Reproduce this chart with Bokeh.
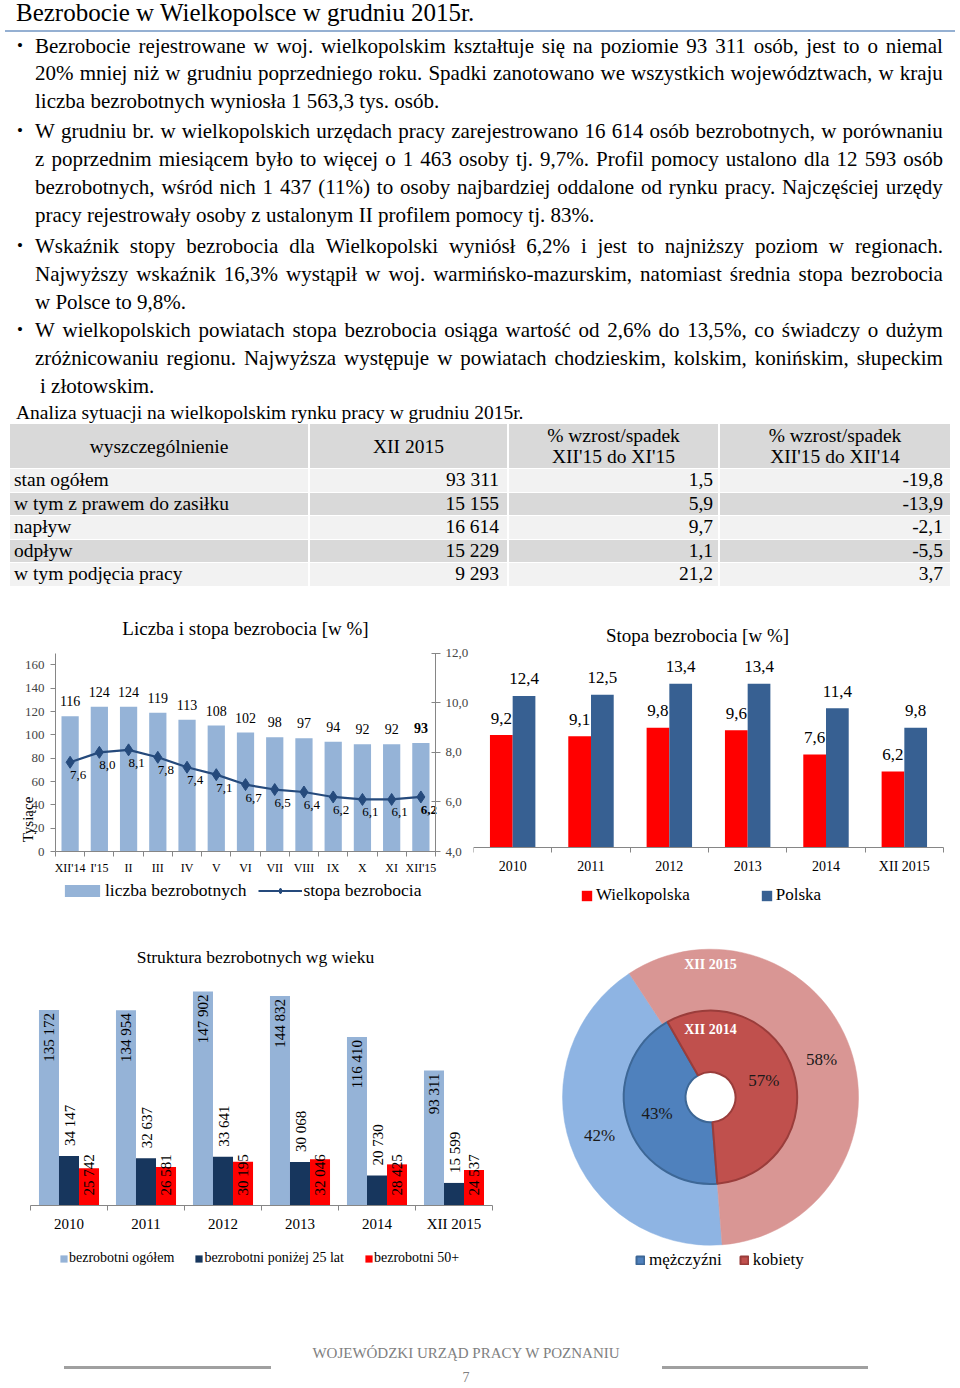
import math
from bokeh.plotting import figure
from bokeh.models import (Range1d, LinearAxis, FixedTicker, Label, Legend, LegendItem,
                          Div, ColumnDataSource)
from bokeh.layouts import column, row
from bokeh.embed import file_html
from bokeh.resources import INLINE
from bokeh.core.properties import value

SERIF = "Liberation Serif"

# ---------------- data ----------------
months = ["XII'14", "I'15", "II", "III", "IV", "V", "VI", "VII", "VIII", "IX", "X", "XI", "XII'15"]
unemployed_k = [116, 124, 124, 119, 113, 108, 102, 98, 97, 94, 92, 92, 93]
rate_pct = [7.6, 8.0, 8.1, 7.8, 7.4, 7.1, 6.7, 6.5, 6.4, 6.2, 6.1, 6.1, 6.2]
left_ticks = [0, 20, 40, 60, 80, 100, 120, 140, 160]
right_ticks = [4, 6, 8, 10, 12]

years = ["2010", "2011", "2012", "2013", "2014", "XII 2015"]
rate_wlkp = [9.2, 9.1, 9.8, 9.6, 7.6, 6.2]
rate_pl = [12.4, 12.5, 13.4, 13.4, 11.4, 9.8]

total = [135172, 134954, 147902, 144832, 116410, 93311]
under25 = [34147, 32637, 33641, 30068, 20730, 15599]
over50 = [25742, 26581, 30195, 32046, 28425, 24537]

gender = ["mężczyźni", "kobiety"]
share_2015 = [42, 58]
share_2014 = [43, 57]

table_head = ["wyszczególnienie", "XII 2015", "% wzrost/spadek<br>XII'15 do XI'15",
              "% wzrost/spadek<br>XII'15 do XII'14"]
table_rows = ["stan ogółem", "w tym z prawem do zasiłku", "napływ", "odpływ", "w tym podjęcia pracy"]
table_xii2015 = ["93 311", "15 155", "16 614", "15 229", "9 293"]
table_mm = ["1,5", "5,9", "9,7", "1,1", "21,2"]
table_yy = ["-19,8", "-13,9", "-2,1", "-5,5", "3,7"]

paragraphs = [
    ["Bezrobocie rejestrowane w woj. wielkopolskim kształtuje się na poziomie 93 311 osób, jest to o niemal",
     "20% mniej niż w grudniu poprzedniego roku. Spadki zanotowano we wszystkich województwach, w kraju",
     "liczba bezrobotnych wyniosła 1 563,3 tys. osób."],
    ["W grudniu br. w wielkopolskich urzędach pracy zarejestrowano 16 614 osób bezrobotnych, w porównaniu",
     "z poprzednim miesiącem było to więcej o 1 463 osoby tj. 9,7%. Profil pomocy ustalono dla 12 593 osób",
     "bezrobotnych, wśród nich 1 437 (11%) to osoby najbardziej oddalone od rynku pracy. Najczęściej urzędy",
     "pracy rejestrowały osoby z ustalonym II profilem pomocy tj. 83%."],
    ["Wskaźnik stopy bezrobocia dla Wielkopolski wyniósł 6,2% i jest to najniższy poziom w regionach.",
     "Najwyższy wskaźnik 16,3% wystąpił w woj. warmińsko-mazurskim, natomiast średnia stopa bezrobocia",
     "w Polsce to 9,8%."],
    ["W wielkopolskich powiatach stopa bezrobocia osiąga wartość od 2,6% do 13,5%, co świadczy o dużym",
     "zróżnicowaniu regionu. Najwyższa występuje w powiatach chodzieskim, kolskim, konińskim, słupeckim",
     "i złotowskim."],
]


def pct(v):
    return f"{v:.1f}".replace(".", ",")


def thou(v):
    return f"{v:,}".replace(",", " ")


AX = "#868686"
C_LB = "#95b3d7"
C_DB = "#254a7c"


def lin_range(p0, v0, p1, v1, a, b):
    """Range whose ends are the data values at page pixels a (start) and b (end),
    given two anchor pixels p0/p1 with data values v0/v1 (layout only)."""
    k = (v1 - v0) / (p1 - p0)
    return Range1d(v0 + (a - p0) * k, v0 + (b - p0) * k)


def make_fig(w, h, xr, yr, **kw):
    p = figure(width=w, height=h, x_range=xr, y_range=yr, min_border=0,
               output_backend="svg", toolbar_location=None, **kw)
    p.outline_line_color = None
    p.xgrid.visible = False
    p.ygrid.visible = False
    p.background_fill_color = "white"
    p.border_fill_color = "white"
    return p


def style_xaxis(ax, n, size, standoff):
    ax.ticker = FixedTicker(ticks=list(range(n)), minor_ticks=[i - 0.5 for i in range(n + 1)])
    ax.fixed_location = 0
    ax.bounds = (-0.5, n - 0.5)
    ax.major_tick_out = 0
    ax.major_tick_in = 0
    ax.major_tick_line_color = None
    ax.minor_tick_out = 5
    ax.minor_tick_in = 0
    ax.minor_tick_line_color = AX
    ax.axis_line_color = AX
    ax.major_label_text_font = SERIF
    ax.major_label_text_font_size = size
    ax.major_label_text_color = "black"
    ax.major_label_standoff = standoff


def title(p, x, y, text, size, angle=0.0):
    p.add_layout(Label(x=x, y=y, x_units="screen", y_units="screen", text=text, angle=angle,
                       text_font=SERIF, text_font_size=size, text_color="black",
                       text_align="center", text_baseline="middle"))


def legend(items, loc, gw, gh, standoff, spacing, size, lh):
    return Legend(items=items, location=loc, orientation="horizontal", glyph_width=gw,
                  glyph_height=gh, label_standoff=standoff, spacing=spacing, padding=0,
                  margin=0, label_height=lh, border_line_color=None,
                  background_fill_alpha=0, label_text_font=SERIF, label_text_font_size=size,
                  label_text_color="black")


# ---------------- chart 1: liczba i stopa (page x 0..473, y 610..917) ----------------
n1 = len(months)
p1 = make_fig(473, 307, lin_range(55, -0.5, 435, n1 - 0.5, 0, 473),
              lin_range(851, 0, 652.7, 170, 917, 610))
p1.extra_y_ranges = {"rate": lin_range(851, right_ticks[0], 652.7, right_ticks[-1], 917, 610)}
src1 = ColumnDataSource(dict(
    x=list(range(n1)), n=unemployed_k, r=rate_pct,
    n_txt=[str(v) for v in unemployed_k], r_txt=[pct(v) for v in rate_pct],
    style=["normal"] * (n1 - 1) + ["bold"]))
bars1 = p1.vbar(x="x", top="n", width=0.59, source=src1, fill_color=C_LB, line_color=None)
line1 = p1.line(x="x", y="r", source=src1, y_range_name="rate", line_color=C_DB, line_width=2.2)
mark1 = p1.scatter(x="x", y="r", source=src1, y_range_name="rate", marker="diamond", size=12,
                   fill_color=C_DB, line_color=C_DB)
p1.text(x="x", y="n", text="n_txt", source=src1, text_font=value(SERIF), text_font_size="14px",
        text_font_style="style", text_align="center", text_baseline="middle", y_offset=-15,
        text_color="black")
p1.text(x="x", y="r", text="r_txt", source=src1, y_range_name="rate", text_font=value(SERIF),
        text_font_size="13px", text_font_style="style", text_align="center",
        text_baseline="middle", x_offset=8, y_offset=13, text_color="black")
style_xaxis(p1.xaxis[0], n1, "12px", 4)
p1.xaxis[0].major_label_overrides = {i: m for i, m in enumerate(months)}
ly = p1.yaxis[0]
ly.ticker = FixedTicker(ticks=left_ticks)
ly.fixed_location = -0.5
ly.bounds = (0, 170)
ly.major_tick_out = 5
ly.major_tick_in = 0
ly.minor_tick_line_color = None
ly.axis_line_color = AX
ly.major_tick_line_color = AX
ly.major_label_text_font = SERIF
ly.major_label_text_font_size = "13px"
ly.major_label_standoff = 6
ry = LinearAxis(y_range_name="rate", ticker=FixedTicker(ticks=right_ticks),
                major_label_overrides={t: pct(t) for t in right_ticks},
                fixed_location=n1 - 0.5, bounds=(right_ticks[0], right_ticks[-1]))
ry.major_tick_out = 5
ry.major_tick_in = 4
ry.minor_tick_line_color = None
ry.axis_line_color = AX
ry.major_tick_line_color = AX
ry.major_label_text_font = SERIF
ry.major_label_text_font_size = "13px"
ry.major_label_standoff = 5
p1.add_layout(ry, "right")
title(p1, 245, 289, "Liczba i stopa bezrobocia [w %]", "19px")
title(p1, 27, 98, "Tysiące", "15px", angle=math.pi / 2)
p1.add_layout(legend([LegendItem(label="liczba bezrobotnych", renderers=[bars1]),
                      LegendItem(label="stopa bezrobocia", renderers=[line1, mark1])],
                     (60, 16), 44, 15, 1, 12, "17.5px", 22))

# ---------------- chart 2: stopa bezrobocia (page x 473..960, y 610..917) ----------------
n2 = len(years)
p2 = make_fig(487, 307, lin_range(473, -0.5, 943, n2 - 0.5, 473, 960),
              lin_range(846.7, 0, 683.3, 13.4, 917, 610), y_axis_type=None)
src2 = ColumnDataSource(dict(
    xr=[i - 0.145 for i in range(n2)], xb=[i + 0.145 for i in range(n2)],
    w=rate_wlkp, pl=rate_pl, wt=[pct(v) for v in rate_wlkp], pt=[pct(v) for v in rate_pl]))
bw = p2.vbar(x="xr", top="w", width=0.29, source=src2, fill_color="#ff0000", line_color=None)
bp = p2.vbar(x="xb", top="pl", width=0.29, source=src2, fill_color="#376092", line_color=None)
for xc, yc, tc in (("xr", "w", "wt"), ("xb", "pl", "pt")):
    p2.text(x=xc, y=yc, text=tc, source=src2, text_font=value(SERIF), text_font_size="17px",
            text_align="center", text_baseline="middle", y_offset=-17, text_color="black")
style_xaxis(p2.xaxis[0], n2, "14px", 7)
p2.xaxis[0].major_label_overrides = {i: y for i, y in enumerate(years)}
title(p2, 224, 282, "Stopa bezrobocia [w %]", "19px")
p2.add_layout(legend([LegendItem(label="Wielkopolska", renderers=[bw]),
                      LegendItem(label="Polska", renderers=[bp])],
                     (107, 11), 13, 13, 3, 70, "17px", 22))

# ---------------- chart 3: struktura wg wieku (page x 0..540, y 917..1285) ----------------
n3 = len(years)
p3 = make_fig(540, 368, lin_range(30, -0.5, 492, n3 - 0.5, 0, 540),
              lin_range(1205, 0, 991, 147902, 1285, 917), y_axis_type=None)
src3 = ColumnDataSource(dict(
    xa=[i - 0.26 for i in range(n3)], xb=[i for i in range(n3)], xc=[i + 0.26 for i in range(n3)],
    t=total, u=under25, o=over50, zero=[0] * n3,
    tt=[thou(v) for v in total], ut=[thou(v) for v in under25], ot=[thou(v) for v in over50]))
b_all = p3.vbar(x="xa", top="t", width=0.26, source=src3, fill_color=C_LB, line_color=None)
b_u25 = p3.vbar(x="xb", top="u", width=0.26, source=src3, fill_color="#17365d", line_color=None)
b_o50 = p3.vbar(x="xc", top="o", width=0.26, source=src3, fill_color="#ff0000", line_color=None)
lab = dict(source=src3, text_font=value(SERIF), text_font_size="15px", angle=math.pi / 2,
           text_baseline="middle", text_color="black")
p3.text(x="xa", y="t", text="tt", text_align="right", y_offset=3, **lab)
p3.text(x="xb", y="u", text="ut", text_align="left", y_offset=-10, x_offset=1, **lab)
p3.text(x="xc", y="zero", text="ot", text_align="left", y_offset=-10, **lab)
style_xaxis(p3.xaxis[0], n3, "15px", 5)
p3.xaxis[0].major_label_overrides = {i: y for i, y in enumerate(years)}
title(p3, 255, 329, "Struktura bezrobotnych wg wieku", "17.5px")
p3.add_layout(legend([LegendItem(label="bezrobotni ogółem", renderers=[b_all]),
                      LegendItem(label="bezrobotni poniżej 25 lat", renderers=[b_u25]),
                      LegendItem(label="bezrobotni 50+", renderers=[b_o50])],
                     (59, 18), 9, 9, 1, 20, "14px", 18))

# ---------------- chart 4: płeć (doughnut) (page x 540..960, y 917..1285) ----------------
p4 = make_fig(420, 368, lin_range(710, 0, 711, 1, 540, 960),
              lin_range(1096.7, 0, 1095.7, 1, 1285, 917), x_axis_type=None, y_axis_type=None)
START = 175.5  # degrees, clockwise from 12 o'clock


def ring(shares, r_in, r_out, fills, lines, lw):
    a = START
    s, e, lx, lyy = [], [], [], []
    rm = (r_in + r_out) / 2
    for v in shares:
        span = v / 100 * 360
        s.append(math.radians(90 - a))
        e.append(math.radians(90 - a - span))
        mid = math.radians(a + span / 2)
        lx.append(rm * math.sin(mid))
        lyy.append(rm * math.cos(mid))
        a += span
    src = ColumnDataSource(dict(s=s, e=e, f=fills, l=lines, lx=lx, ly=lyy,
                                t=[f"{v}%" for v in shares]))
    r = p4.annular_wedge(x=0, y=0, inner_radius=r_in, outer_radius=r_out, start_angle="s",
                         end_angle="e", direction="clock", fill_color="f", line_color="l",
                         line_width=lw, source=src)
    p4.text(x="lx", y="ly", text="t", source=src, text_font=value(SERIF), text_font_size="17px",
            text_align="center", text_baseline="middle", text_color="#1a1a1a")
    return r


ring(share_2015, 86.7, 148, ["#8eb4e3", "#d99694"], ["#8eb4e3", "#d99694"], 0.5)
inner = ring(share_2014, 25, 86.7, ["#4f81bd", "#c0504d"], ["#3d6796", "#9a3d3b"], 2)
p4.text(x=[0, 0], y=[132.7, 67.4], text=["XII 2015", "XII 2014"], text_font=value(SERIF),
        text_font_size="14px", text_font_style="bold", text_color="white",
        text_align="center", text_baseline="middle")
p4.add_layout(legend([LegendItem(label=gender[0], renderers=[inner], index=0),
                      LegendItem(label=gender[1], renderers=[inner], index=1)],
                     (95, 15), 10, 10, 4, 17, "17px", 20))

# ---------------- page text (top) ----------------
# Div content origin is at page (5, 5)
LINE_CY = [46, 73, 101, 131, 159, 187, 215, 246, 274, 302, 330, 358, 386]
FS = 21
LH = 28
parts = ['<div style="position:relative;width:950px;height:600px;font-family:\'Liberation Serif\',serif;color:#000;">']
parts.append('<div style="position:absolute;left:11px;top:-5px;font-size:25px;line-height:26px;'
             'white-space:nowrap;">Bezrobocie w Wielkopolsce w grudniu 2015r.</div>')
parts.append('<div style="position:absolute;left:0px;top:25px;width:950px;height:2px;'
             'background:#95b0d2;"></div>')
k = 0
for para in paragraphs:
    for j, ln in enumerate(para):
        top = LINE_CY[k] - 5 - LH / 2
        if j == 0:
            parts.append(f'<div style="position:absolute;left:12px;top:{top}px;font-size:17px;'
                         f'line-height:{LH}px;">&#8226;</div>')
        last = (j == len(para) - 1)
        if last:
            indent = 5 if k == len(LINE_CY) - 1 else 0
            parts.append(f'<div style="position:absolute;left:{30 + indent}px;top:{top}px;'
                         f'font-size:{FS}px;line-height:{LH}px;white-space:nowrap;">{ln}</div>')
        else:
            spans = "".join(f"<span>{w}</span>" for w in ln.split(" "))
            parts.append(f'<div style="position:absolute;left:30px;top:{top}px;width:908px;'
                         f'font-size:{FS}px;line-height:{LH}px;display:flex;'
                         f'justify-content:space-between;white-space:nowrap;">{spans}</div>')
        k += 1
parts.append('<div style="position:absolute;left:11px;top:397px;font-size:19.5px;line-height:22px;'
             'white-space:nowrap;">Analiza sytuacji na wielkopolskim rynku pracy w grudniu 2015r.</div>')

cols = [(5, 298), (305, 197), (504, 209), (715, 230)]
pad_r = [0, 8, 5, 7]
head_top, head_h = 419, 44
RH = 23.5
parts.append(f'<div style="position:absolute;left:5px;top:{head_top}px;width:940px;height:{head_h}px;'
             f'background:#d9d9d9;"></div>')
for ri in range(len(table_rows)):
    top = head_top + head_h + ri * RH
    bg = "#f2f2f2" if ri % 2 == 0 else "#d9d9d9"
    parts.append(f'<div style="position:absolute;left:5px;top:{top + 1}px;width:940px;'
                 f'height:{RH - 1}px;background:{bg};"></div>')
for ci, (cl, cw) in enumerate(cols):
    if ci > 0:
        parts.append(f'<div style="position:absolute;left:{cl - 2}px;top:{head_top}px;width:2px;'
                     f'height:{head_h + 5 * RH}px;background:#fff;"></div>')
    parts.append(f'<div style="position:absolute;left:{cl}px;top:{head_top}px;width:{cw}px;'
                 f'height:{head_h}px;display:flex;align-items:center;justify-content:center;'
                 f'text-align:center;font-size:19.5px;line-height:21px;">{table_head[ci]}</div>')
for ri in range(len(table_rows)):
    top = head_top + head_h + ri * RH
    vals = [table_rows[ri], table_xii2015[ri], table_mm[ri], table_yy[ri]]
    for ci, (cl, cw) in enumerate(cols):
        al = "left" if ci == 0 else "right"
        pl = 4 if ci == 0 else 0
        parts.append(f'<div style="position:absolute;left:{cl}px;top:{top}px;width:{cw - pad_r[ci] - pl}px;'
                     f'padding-left:{pl}px;height:{RH}px;line-height:{RH + 1}px;font-size:19.5px;'
                     f'text-align:{al};white-space:nowrap;">{vals[ci]}</div>')
parts.append('</div>')
top_div = Div(text="".join(parts), width=950, height=600)

# ---------------- footer ---------------- (content origin page (5, 1290))
foot = ('<div style="position:relative;width:950px;height:93px;font-family:\'Liberation Serif\',serif;'
        'color:#808080;">'
        '<div style="position:absolute;left:161px;top:54px;width:600px;text-align:center;'
        'font-size:15px;line-height:18px;">WOJEWÓDZKI URZĄD PRACY W POZNANIU</div>'
        '<div style="position:absolute;left:59px;top:76px;width:207px;height:3px;background:#a0a0a0;"></div>'
        '<div style="position:absolute;left:657px;top:76px;width:206px;height:3px;background:#a0a0a0;"></div>'
        '<div style="position:absolute;left:361px;top:80px;width:200px;text-align:center;'
        'font-size:14px;line-height:16px;">7</div>'
        '</div>')
foot_div = Div(text=foot, width=950, height=93)

page = column(top_div, row(p1, p2), row(p3, p4), foot_div)
open("out.html", "w", encoding="utf-8").write(file_html(page, INLINE))
